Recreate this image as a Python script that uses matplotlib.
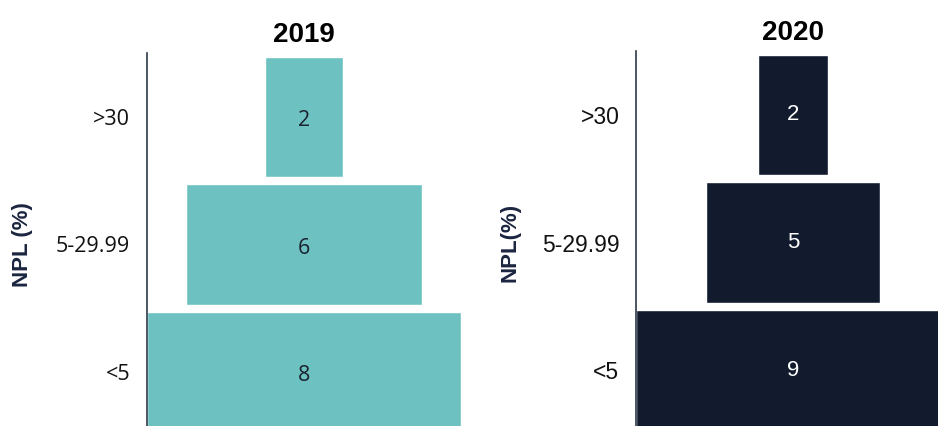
import matplotlib
matplotlib.use("Agg")
import matplotlib.pyplot as plt

categories = ["<5", "5-29.99", ">30"]
values_2019 = [8, 6, 2]
values_2020 = [9, 5, 2]
years = ["2019", "2020"]
ylabels = ["NPL (%)", "NPL(%)"]

W, H = 938, 426
fig = plt.figure(figsize=(W / 100, H / 100), dpi=100)


def px_axes(left, top, width, bottom):
    return [left / W, 1 - bottom / H, width / W, (bottom - top) / H]


teal = "#6DC2C1"
navy = "#121B2D"
spine_c = "#2E3A48"

panels = [
    dict(vals=values_2019, year=years[0], ylabel=ylabels[0], color=teal,
         txt="#1B2230", font="Open Sans", rect=px_axes(147, 53, 314, 436), half=4.0,
         lblx=-0.363, vfs=15.5, voff=-0.03, tfs=15.5),
    dict(vals=values_2020, year=years[1], ylabel=ylabels[1], color=navy,
         txt="white", font="Liberation Sans", rect=px_axes(636, 51, 314, 434), half=4.5,
         lblx=-0.369, vfs=16, voff=0.0, tfs=16.5),
]

for p in panels:
    ax = fig.add_axes(p["rect"])
    ypos = list(range(len(categories)))
    lefts = [-v / 2 for v in p["vals"]]
    ax.barh(ypos, p["vals"], left=lefts, height=0.94, color=p["color"],
            edgecolor="white", linewidth=1.0)
    for y, v in zip(ypos, p["vals"]):
        ax.text(0, y + p["voff"], str(v), ha="center", va="center", color=p["txt"],
                fontsize=p["vfs"], family=p["font"])
    ax.set_xlim(-p["half"], p["half"])
    ax.set_ylim(-0.5, 2.5)
    ax.set_yticks(ypos)
    ax.set_yticklabels(categories, family=p["font"], fontsize=p["tfs"], color="#111111")
    ax.tick_params(axis="y", length=0, pad=12)
    ax.set_xticks([])
    for s in ["top", "right", "bottom"]:
        ax.spines[s].set_visible(False)
    ax.spines["left"].set_color(spine_c)
    ax.spines["left"].set_linewidth(1.2)
    ax.set_title(p["year"], fontsize=20, fontweight="bold", family="Liberation Sans",
                 color="black", pad=8)
    ax.set_ylabel(p["ylabel"], fontsize=16, fontweight="bold", family="Liberation Sans",
                  color="#1B2540")
    ax.yaxis.set_label_coords(p["lblx"], 0.5)

fig.savefig("out.png", dpi=100)
